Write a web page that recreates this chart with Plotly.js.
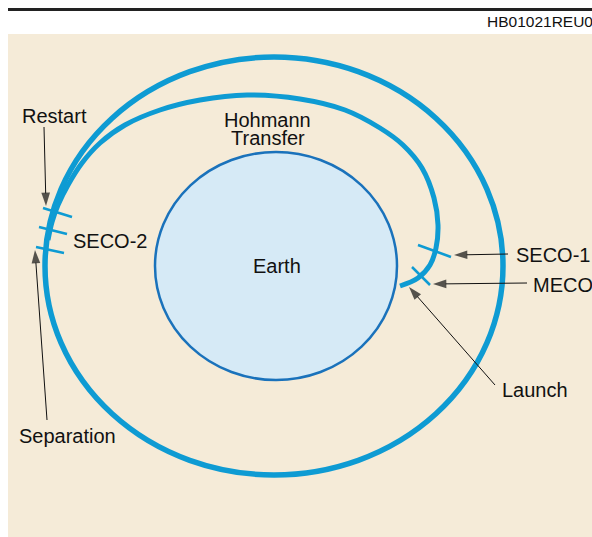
<!DOCTYPE html>
<html>
<head>
<meta charset="utf-8">
<script src="https://cdn.plot.ly/plotly-3.0.1.min.js"></script>
<style>html,body{margin:0;padding:0;background:#fff;}#chart{width:592px;height:537px;}</style>
</head>
<body>
<div id="chart"></div>
<script>
// ---- diagram values (pixel-like units) ----
// ellipses: [centreX, centreY, radiusX, radiusY]
const targetOrbit = [274, 266, 229, 209];
const earthBody = [276, 266, 121, 114];

// Hohmann transfer path, from launch point round to the restart point
const transferX = [400, 418, 430, 436, 438, 434, 422, 403, 380, 345, 300, 247, 200, 160, 125, 100, 82, 68, 58, 52, 48];
const transferY = [286, 278, 265, 248, 225, 198, 168, 145, 128, 110, 99, 95, 100, 110, 125, 143, 163, 185, 205, 222, 240];

// event tick marks crossing the orbits
const tickNames = ['Restart', 'SECO-2', 'Separation', 'SECO-1', 'MECO'];
const tickX0 = [43, 39, 36, 418, 412];
const tickY0 = [208, 227, 247, 245, 267];
const tickX1 = [72, 67, 64, 451, 430];
const tickY1 = [217, 234, 253, 257, 285];

// arrows: tail -> tip
const arrowNames = ['Restart', 'Separation', 'SECO-1', 'MECO', 'Launch'];
const arrowTailX = [44, 47, 508, 527, 495];
const arrowTailY = [127, 420, 254, 283, 385];
const arrowTipX = [46, 35, 454, 433, 409];
const arrowTipY = [206, 250, 255, 284, 287];

// text labels
const labelText = ['Restart', 'SECO-2', 'Separation', 'Hohmann', 'Transfer', 'Earth', 'SECO-1', 'MECO', 'Launch'];
const labelX = [54, 72, 18, 267, 268, 277, 515, 532, 501];
const labelY = [116, 241, 436, 119.5, 138, 266, 255, 285, 389.5];
const labelAnchor = ['center', 'left', 'left', 'center', 'center', 'center', 'left', 'left', 'left'];

const figureCode = 'HB01021REU0';

// ---- styles ----
const BLUE = '#0e9bd3';
const EARTH_FILL = '#d6eaf6';
const EARTH_LINE = '#1a72bb';
const PANEL = '#f5ebd8';
const FONT = 'Liberation Sans, Arial, Helvetica, sans-serif';

const shapes = [];
shapes.push({type: 'rect', xref: 'x', yref: 'y', x0: 8, x1: 592, y0: 34, y1: 537,
  fillcolor: PANEL, line: {width: 0}, layer: 'below'});
shapes.push({type: 'line', xref: 'x', yref: 'y', x0: 8, x1: 592, y0: 9.5, y1: 9.5,
  line: {color: '#222', width: 3}, layer: 'below'});
shapes.push({type: 'circle', xref: 'x', yref: 'y',
  x0: targetOrbit[0] - targetOrbit[2], x1: targetOrbit[0] + targetOrbit[2],
  y0: targetOrbit[1] - targetOrbit[3], y1: targetOrbit[1] + targetOrbit[3],
  line: {color: BLUE, width: 5.5}, fillcolor: 'rgba(0,0,0,0)', layer: 'below'});
shapes.push({type: 'circle', xref: 'x', yref: 'y',
  x0: earthBody[0] - earthBody[2], x1: earthBody[0] + earthBody[2],
  y0: earthBody[1] - earthBody[3], y1: earthBody[1] + earthBody[3],
  line: {color: EARTH_LINE, width: 2.5}, fillcolor: EARTH_FILL, layer: 'below'});
for (let i = 0; i < tickNames.length; i++) {
  shapes.push({type: 'line', xref: 'x', yref: 'y', x0: tickX0[i], y0: tickY0[i], x1: tickX1[i], y1: tickY1[i],
    line: {color: BLUE, width: 2.5}, layer: 'above'});
}

const traces = [];
traces.push({x: transferX, y: transferY, mode: 'lines', type: 'scatter',
  line: {color: BLUE, width: 5, shape: 'spline', smoothing: 1}, hoverinfo: 'skip', showlegend: false});
for (let i = 0; i < arrowNames.length; i++) {
  traces.push({x: [arrowTailX[i], arrowTipX[i]], y: [arrowTailY[i], arrowTipY[i]],
    mode: 'lines+markers', type: 'scatter', name: arrowNames[i],
    line: {color: '#111', width: 1},
    marker: {symbol: 'arrow', angleref: 'previous', size: [0, 14], color: '#111', line: {width: 0}},
    hoverinfo: 'skip', showlegend: false});
}

const annotations = [];
for (let i = 0; i < labelText.length; i++) {
  const a = {text: labelText[i], x: labelX[i], y: labelY[i], xref: 'x', yref: 'y',
    xanchor: labelAnchor[i], yanchor: 'middle', showarrow: false, borderpad: 0,
    font: {family: FONT, size: 20, color: '#111'}};
  if (labelText[i] === 'Hohmann' || labelText[i] === 'Transfer') { a.height = 18; a.valign = 'middle'; }
  annotations.push(a);
}
annotations.push({text: figureCode, x: 485, y: 21.5, xref: 'x', yref: 'y', xanchor: 'left', yanchor: 'middle',
  showarrow: false, font: {family: FONT, size: 15.5, color: '#111'}});

const layout = {
  width: 592, height: 537,
  margin: {l: 0, r: 0, t: 0, b: 0, pad: 0},
  paper_bgcolor: '#ffffff', plot_bgcolor: '#ffffff',
  xaxis: {range: [0, 592], visible: false, fixedrange: true},
  yaxis: {range: [537, 0], visible: false, fixedrange: true},
  shapes: shapes, annotations: annotations, showlegend: false
};
Plotly.newPlot('chart', traces, layout, {displayModeBar: false, staticPlot: true});
</script>
</body>
</html>
